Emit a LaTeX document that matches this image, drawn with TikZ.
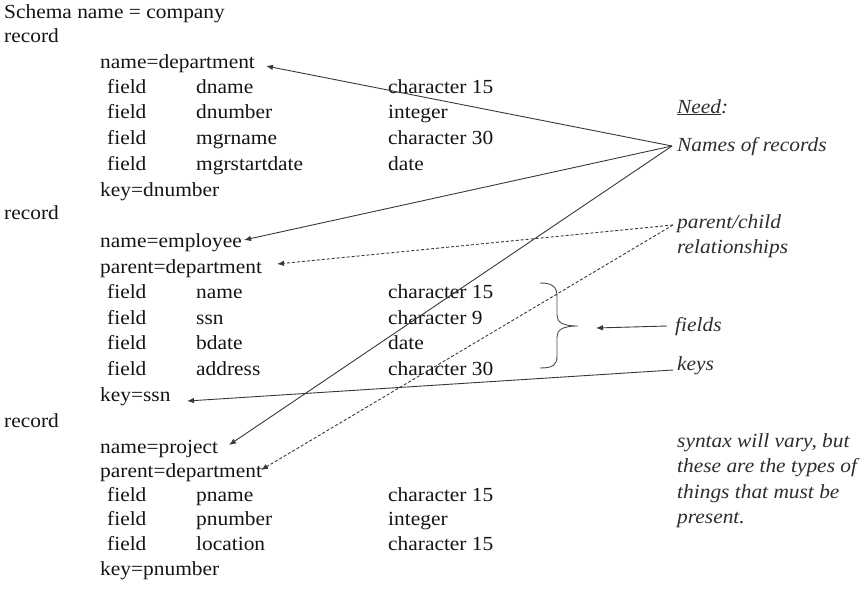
\documentclass[tikz,border=0pt]{standalone}
\usepackage{fontspec}
\setmainfont{Liberation Serif}[FakeStretch=1.07]
\usetikzlibrary{arrows.meta}
\begin{document}
\begin{tikzpicture}[x=1pt,y=-1pt,
  txt/.style={anchor=west, inner sep=0pt, text height=14pt, text depth=4pt,
              font=\fontsize{20}{24}\selectfont, text=black!92},
  note/.style={txt, font=\fontsize{20}{24}\selectfont\itshape, text=black!82},
  link/.style={draw=black!78, line width=0.9pt, -{Latex[length=7pt,width=5.5pt]}},
  dlink/.style={link, dash pattern=on 3pt off 2pt},
  bracestyle/.style={draw=black!70, line width=0.9pt}]
\useasboundingbox (0,0) rectangle (860,590);

% ---------- schema text ----------
\node[txt] (schema) at (4,13) {Schema name = company};

% record: department
\node[txt] (rec1) at (4,37) {record};
\node[txt] (dname) at (100,63) {name=department};
\node[txt] (f11) at (107,88)  {field}; \node[txt] (n11) at (196,88)  {dname};        \node[txt] (t11) at (388,88)  {character 15};
\node[txt] (f12) at (107,113) {field}; \node[txt] (n12) at (196,113) {dnumber};      \node[txt] (t12) at (388,113) {integer};
\node[txt] (f13) at (107,139) {field}; \node[txt] (n13) at (196,139) {mgrname};      \node[txt] (t13) at (388,139) {character 30};
\node[txt] (f14) at (107,165) {field}; \node[txt] (n14) at (196,165) {mgrstartdate}; \node[txt] (t14) at (388,165) {date};
\node[txt] (key1) at (100,191) {key=dnumber};

% record: employee
\node[txt] (rec2) at (4,214) {record};
\node[txt] (ename) at (100,242) {name=employee};
\node[txt] (epar) at (100,268) {parent=department};
\node[txt] (f21) at (107,293) {field}; \node[txt] (n21) at (196,293) {name};    \node[txt] (t21) at (388,293) {character 15};
\node[txt] (f22) at (107,319) {field}; \node[txt] (n22) at (196,319) {ssn};     \node[txt] (t22) at (388,319) {character 9};
\node[txt] (f23) at (107,344) {field}; \node[txt] (n23) at (196,344) {bdate};   \node[txt] (t23) at (388,344) {date};
\node[txt] (f24) at (107,370) {field}; \node[txt] (n24) at (196,370) {address}; \node[txt] (t24) at (388,370) {character 30};
\node[txt] (key2) at (100,396) {key=ssn};

% record: project
\node[txt] (rec3) at (4,422) {record};
\node[txt] (pname) at (100,448) {name=project};
\node[txt] (ppar) at (100,472) {parent=department};
\node[txt] (f31) at (107,496) {field}; \node[txt] (n31) at (196,496) {pname};    \node[txt] (t31) at (388,496) {character 15};
\node[txt] (f32) at (107,520) {field}; \node[txt] (n32) at (196,520) {pnumber};  \node[txt] (t32) at (388,520) {integer};
\node[txt] (f33) at (107,545) {field}; \node[txt] (n33) at (196,545) {location}; \node[txt] (t33) at (388,545) {character 15};
\node[txt] (key3) at (100,570) {key=pnumber};

% ---------- notes on the right ----------
\node[note] (need)   at (677,108) {\underline{Need}:};
\node[note] (names)  at (677,146) {Names of records};
\node[note] (pc)     at (677,223) {parent/child};
\node[note] (rel)    at (677,248) {relationships};
\node[note] (fields) at (675,326) {fields};
\node[note] (keys)   at (677,365) {keys};
\node[note] (s1) at (677,442) {syntax will vary, but};
\node[note] (s2) at (677,467) {these are the types of};
\node[note] (s3) at (677,493) {things that must be};
\node[note] (s4) at (677,518) {present.};

% ---------- arrow tips ----------
\coordinate (tipDept)  at (266,66);
\coordinate (tipEmp)   at (244,240);
\coordinate (tipProj)  at (229,445);
\coordinate (tipEpar)  at (277,264);
\coordinate (tipPpar)  at (261,470);
\coordinate (tipKey)   at (187,401);
\coordinate (tipBrace) at (596,328);

% ---------- brace around the employee fields ----------
\path[bracestyle] (540,283) .. controls (553,283) and (557,287) .. (557,297)
  -- (557,315) .. controls (557,322) and (562,326) .. (578,326)
  .. controls (562,326) and (557,330) .. (557,337)
  -- (557,356) .. controls (557,365) and (553,368) .. (540,368);

% ---------- connectors ----------
\draw[link] ([xshift=-5pt]names.west) -- (tipDept);
\draw[link] ([xshift=-5pt]names.west) -- (tipEmp);
\draw[link] ([xshift=-5pt]names.west) -- (tipProj);
\draw[dlink] ([shift={(-4,2)}]pc.west) -- (tipEpar);
\draw[dlink] ([shift={(-4,2)}]pc.west) -- (tipPpar);
\draw[link] ([xshift=-8pt]fields.west) -- (tipBrace);
\draw[link] ([shift={(-4,5)}]keys.west) -- (tipKey);
\end{tikzpicture}
\end{document}
